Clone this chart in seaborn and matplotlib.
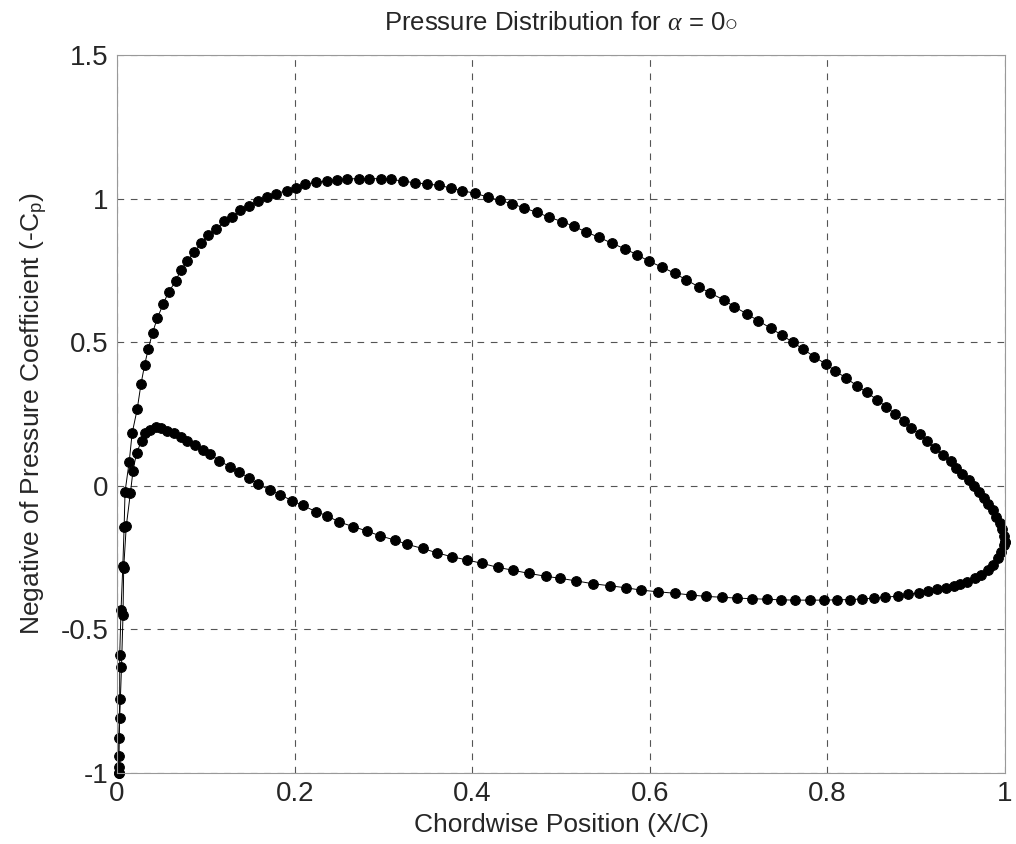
import numpy as np
import pandas as pd
import seaborn as sns
import matplotlib
matplotlib.use("Agg")
import matplotlib.pyplot as plt

# upper surface, leading edge -> trailing edge
upper_x = [0.002, 0.002, 0.002, 0.003, 0.003, 0.0045, 0.0065, 0.008, 0.009, 0.0137,
           0.017, 0.0227, 0.027, 0.031, 0.035, 0.040, 0.0455, 0.052, 0.058, 0.066,
           0.0715, 0.079, 0.087, 0.095, 0.102, 0.112, 0.121, 0.129, 0.139, 0.149,
           0.159, 0.169, 0.179, 0.191, 0.201, 0.212, 0.224, 0.236, 0.248, 0.259,
           0.272, 0.284, 0.297, 0.309, 0.322, 0.336, 0.349, 0.363, 0.376, 0.389,
           0.403, 0.418, 0.431, 0.445, 0.458, 0.473, 0.486, 0.501, 0.515, 0.528,
           0.543, 0.557, 0.572, 0.586, 0.599, 0.614, 0.628, 0.641, 0.655, 0.668,
           0.683, 0.695, 0.709, 0.722, 0.736, 0.749, 0.761, 0.773, 0.785, 0.798,
           0.809, 0.821, 0.833, 0.844, 0.856, 0.866, 0.876, 0.886, 0.894, 0.904,
           0.912, 0.921, 0.930, 0.939, 0.945, 0.952, 0.959, 0.965, 0.971, 0.976,
           0.981, 0.986, 0.990, 0.994, 0.997, 0.999, 1.000]
upper_cp = [-1.000, -0.978, -0.879, -0.743, -0.589, -0.432, -0.279, -0.142, -0.021, 0.084,
            0.183, 0.267, 0.355, 0.420, 0.475, 0.533, 0.585, 0.633, 0.675, 0.712,
            0.750, 0.782, 0.814, 0.845, 0.872, 0.894, 0.921, 0.936, 0.959, 0.975,
            0.991, 1.007, 1.017, 1.028, 1.037, 1.050, 1.057, 1.061, 1.066, 1.068,
            1.070, 1.070, 1.069, 1.067, 1.061, 1.055, 1.051, 1.046, 1.037, 1.027,
            1.019, 1.005, 0.994, 0.982, 0.968, 0.952, 0.936, 0.920, 0.903, 0.884,
            0.865, 0.845, 0.825, 0.804, 0.782, 0.761, 0.740, 0.717, 0.693, 0.671,
            0.648, 0.624, 0.599, 0.575, 0.549, 0.524, 0.500, 0.475, 0.450, 0.424,
            0.400, 0.375, 0.349, 0.325, 0.300, 0.275, 0.251, 0.227, 0.203, 0.179,
            0.155, 0.130, 0.107, 0.085, 0.063, 0.041, 0.020, 0.000, -0.021, -0.041,
            -0.062, -0.084, -0.107, -0.130, -0.152, -0.175, -0.195]

# lower surface, leading edge -> trailing edge
lower_x = [0.002, 0.002, 0.003, 0.005, 0.0067, 0.0075, 0.0104, 0.015, 0.018, 0.022,
           0.0276, 0.031, 0.037, 0.044, 0.050, 0.056, 0.064, 0.0715, 0.079, 0.088,
           0.097, 0.105, 0.115, 0.127, 0.137, 0.149, 0.159, 0.172, 0.184, 0.197,
           0.209, 0.224, 0.237, 0.250, 0.266, 0.281, 0.296, 0.313, 0.327, 0.344,
           0.360, 0.377, 0.394, 0.411, 0.429, 0.446, 0.464, 0.483, 0.499, 0.517,
           0.536, 0.555, 0.573, 0.590, 0.609, 0.628, 0.646, 0.663, 0.681, 0.698,
           0.715, 0.732, 0.748, 0.764, 0.780, 0.796, 0.811, 0.825, 0.839, 0.853,
           0.865, 0.879, 0.891, 0.903, 0.913, 0.923, 0.933, 0.942, 0.949, 0.957,
           0.966, 0.973, 0.981, 0.987, 0.992, 0.996, 0.999, 1.000]
lower_cp = [-1.000, -0.941, -0.807, -0.632, -0.450, -0.285, -0.140, -0.026, 0.053, 0.115,
            0.156, 0.183, 0.194, 0.204, 0.200, 0.192, 0.183, 0.171, 0.157, 0.142,
            0.125, 0.110, 0.087, 0.067, 0.049, 0.027, 0.006, -0.015, -0.031, -0.052,
            -0.068, -0.090, -0.105, -0.126, -0.142, -0.157, -0.174, -0.189, -0.204, -0.218,
            -0.233, -0.247, -0.258, -0.270, -0.284, -0.294, -0.305, -0.315, -0.322, -0.331,
            -0.341, -0.348, -0.355, -0.363, -0.369, -0.374, -0.380, -0.385, -0.388, -0.391,
            -0.393, -0.395, -0.397, -0.398, -0.398, -0.398, -0.397, -0.396, -0.394, -0.391,
            -0.388, -0.384, -0.378, -0.372, -0.366, -0.360, -0.355, -0.349, -0.343, -0.334,
            -0.322, -0.311, -0.293, -0.276, -0.252, -0.229, -0.206, -0.195]

x_ticks = [0, 0.2, 0.4, 0.6, 0.8, 1]
x_labels = ["0", "0.2", "0.4", "0.6", "0.8", "1"]
y_ticks = [-1, -0.5, 0, 0.5, 1, 1.5]
y_labels = ["-1", "-0.5", "0", "0.5", "1", "1.5"]

sns.set_style("white")
plt.rcParams['font.family'] = ['Liberation Sans', 'DejaVu Sans']
plt.rcParams['mathtext.fontset'] = 'custom'
plt.rcParams['mathtext.rm'] = 'Liberation Sans'
plt.rcParams['mathtext.it'] = 'Liberation Serif:italic'

fig = plt.figure(figsize=(10.16, 8.44), dpi=100)
ax = fig.add_axes([0.1152, 0.0841, 0.874, 0.8507])

for xs, ys in [(upper_x, upper_cp), (lower_x, lower_cp)]:
    sns.lineplot(x=xs, y=ys, sort=False, estimator=None, color='k', linewidth=0.7,
                 marker='o', markersize=7, markeredgecolor='k', markerfacecolor='k',
                 ax=ax, clip_on=False)

ax.set_xlim(0, 1)
ax.set_ylim(-1, 1.5)
ax.set_xticks(x_ticks)
ax.set_xticklabels(x_labels)
ax.set_yticks(y_ticks)
ax.set_yticklabels(y_labels)
ax.tick_params(labelsize=20, direction='in', length=4, color='#777777', pad=6)
ax.grid(True, linestyle=(0, (6, 6)), color='#555555', linewidth=0.8)
for s in ax.spines.values():
    s.set_color('#999999')
    s.set_linewidth(0.8)

ax.set_title(r"Pressure Distribution for $\alpha$ = 0$\circ$", fontsize=18.5, pad=18)
ax.set_xlabel("Chordwise Position (X/C)", fontsize=19, labelpad=4)
ax.set_ylabel(r"Negative of Pressure Coefficient (-C$_{\mathrm{p}}$)", fontsize=19, labelpad=8)

plt.savefig("out.png", dpi=100)
plt.close()
